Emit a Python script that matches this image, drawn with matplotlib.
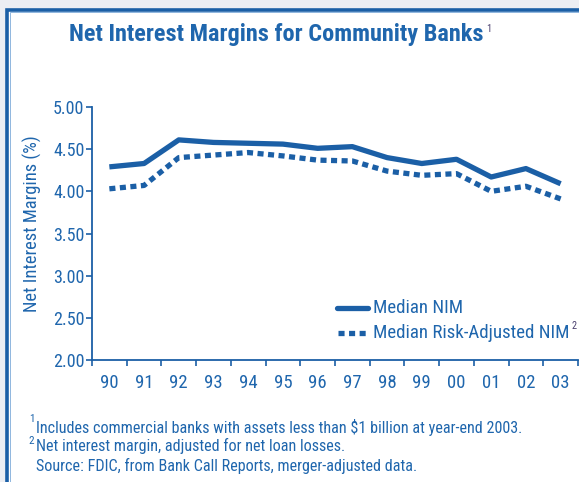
import matplotlib
matplotlib.use("Agg")
import matplotlib.pyplot as plt
from matplotlib.patches import Rectangle
from matplotlib.lines import Line2D

plt.rcParams["font.family"] = ["Roboto Condensed", "DejaVu Sans"]

BLUE = "#1b5fa6"
TEXT = "#1f66ad"

years = ["90", "91", "92", "93", "94", "95", "96", "97", "98", "99", "00", "01", "02", "03"]
median_nim = [4.29, 4.33, 4.61, 4.58, 4.57, 4.56, 4.51, 4.53, 4.40, 4.33, 4.38, 4.17, 4.27, 4.09]
risk_adj_nim = [4.03, 4.07, 4.40, 4.43, 4.46, 4.42, 4.37, 4.36, 4.24, 4.19, 4.21, 4.00, 4.06, 3.91]
y_ticks = [2.00, 2.50, 3.00, 3.50, 4.00, 4.50, 5.00]

W, H = 579, 482
fig = plt.figure(figsize=(W / 100, H / 100), dpi=100)
fig.patch.set_facecolor("#eceef3")

# framed panel
fig.patches.append(Rectangle((7.5 / W, -0.1), 1.2, 1 - 9.5 / H + 0.1,
                             transform=fig.transFigure, facecolor="white",
                             edgecolor=BLUE, linewidth=2.6, zorder=-2))
fig.patches.append(Rectangle((10 / W, -0.1), 1.2, 1 - 12 / H + 0.1,
                             transform=fig.transFigure, facecolor="none",
                             edgecolor="#8fb6de", linewidth=0.7, zorder=-1))

x0, x1 = 92, 578
ytop, ybot = 107, 360
ax = fig.add_axes([x0 / W, 1 - ybot / H, (x1 - x0) / W, (ybot - ytop) / H])
ax.set_facecolor("none")

xs = list(range(len(years)))
ax.plot(xs, median_nim, color=BLUE, linewidth=3.8, solid_capstyle="butt",
        solid_joinstyle="round")
ax.plot(xs, risk_adj_nim, color=BLUE, linewidth=3.8, linestyle=(0, (1.15, 0.85)),
        dash_capstyle="butt")

ax.set_xlim(-0.5, len(years) - 0.5)
ax.set_ylim(2.0, 5.0)
ax.set_yticks(y_ticks)
ax.set_yticklabels([f"{v:.2f}" for v in y_ticks])
ax.set_xticks(xs)
ax.set_xticklabels(years)
ax.set_xticks([i + 0.5 for i in range(-1, len(years))], minor=True)
ax.tick_params(axis="x", which="major", length=0, pad=10, labelsize=13.5, labelcolor=TEXT)
ax.tick_params(axis="x", which="minor", length=4, width=1.2, color=BLUE, direction="out")
ax.tick_params(axis="y", length=4, width=1.2, color=BLUE, labelsize=13,
               labelcolor=TEXT, pad=1.5)
for s in ("top", "right"):
    ax.spines[s].set_visible(False)
for s in ("left", "bottom"):
    ax.spines[s].set_color(BLUE)
    ax.spines[s].set_linewidth(1.3)

ax.set_ylabel("Net Interest Margins (%)", color=TEXT, fontsize=13.3)
ax.yaxis.set_label_coords(-50 / (x1 - x0), 0.54)


def fx(px):
    return px / W


def fy(py):
    return 1 - py / H


# legend
fig.add_artist(Line2D([fx(337), fx(368)], [fy(308), fy(308)], color=BLUE,
                      linewidth=3.8, solid_capstyle="round"))
fig.add_artist(Line2D([fx(338), fx(368)], [fy(333), fy(333)], color=BLUE,
                      linewidth=3.8, linestyle=(0, (1.15, 0.85)), dash_capstyle="butt"))
fig.text(fx(373), fy(308), "Median NIM", color=TEXT, fontsize=13.6, va="center")
fig.text(fx(373), fy(333), "Median Risk-Adjusted NIM", color=TEXT, fontsize=13.6,
         va="center")
fig.text(fx(572), fy(326), "2", color="#4a3f6e", fontsize=7.5, va="center")

# title
fig.text(fx(276), fy(34), "Net Interest Margins for Community Banks", color=TEXT,
         fontsize=17.5, fontweight="bold", ha="center", va="center")
fig.text(fx(486), fy(29), "1", color="#4a3f6e", fontsize=7.5, ha="left", va="center")

# footnotes
fig.text(fx(29), fy(419), "1", color=TEXT, fontsize=8, va="center")
fig.text(fx(36), fy(427), "Includes commercial banks with assets less than $1 billion at year-end 2003.",
         color=TEXT, fontsize=11.6, va="center")
fig.text(fx(28), fy(441), "2", color=TEXT, fontsize=8, va="center")
fig.text(fx(36), fy(446), "Net interest margin, adjusted for net loan losses.",
         color=TEXT, fontsize=11.6, va="center")
fig.text(fx(36), fy(466), "Source: FDIC, from Bank Call Reports, merger-adjusted data.",
         color=TEXT, fontsize=11.6, va="center")

fig.savefig("out.png", dpi=100, facecolor=fig.get_facecolor())
